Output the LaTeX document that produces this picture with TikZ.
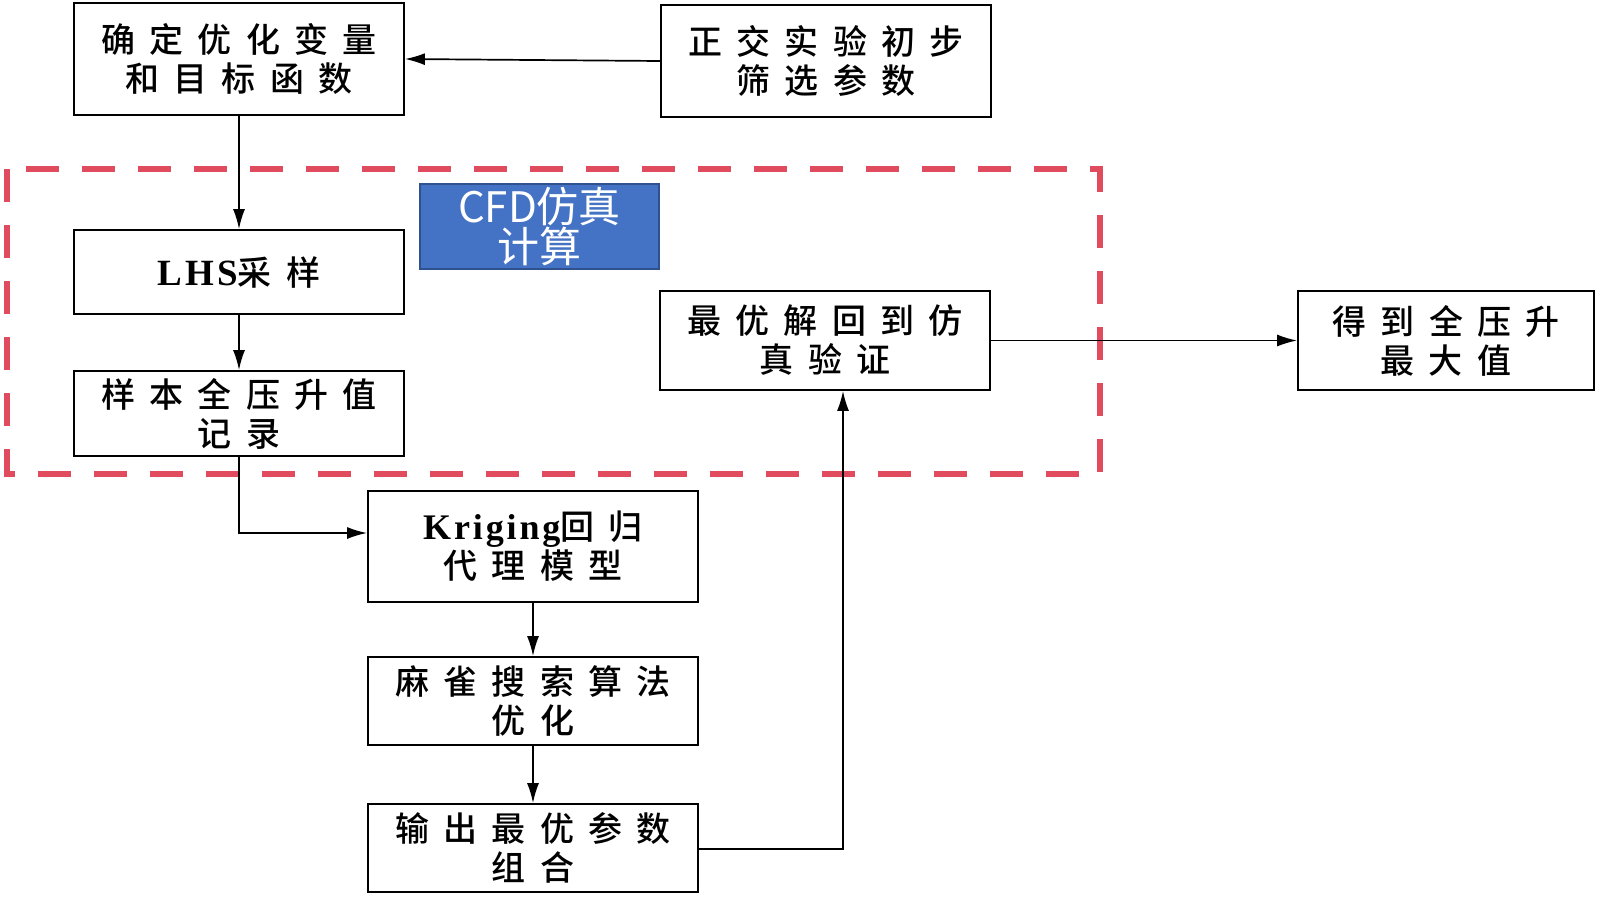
\documentclass[tikz,border=0pt]{standalone}
\usepackage{fontspec}
\newfontfamily\cjk[LetterSpace=42, UprightFont={* Medium}]{Noto Sans CJK SC}
\newfontfamily\cjkplain{Noto Sans CJK SC}
\newfontfamily\lat[LetterSpace=8]{Liberation Serif}
\usetikzlibrary{arrows.meta}
\definecolor{dashred}{RGB}{224,75,94}
\definecolor{cfdblue}{RGB}{68,114,196}
\definecolor{cfdedge}{RGB}{47,82,143}
\begin{document}
\begin{tikzpicture}[x=1pt,y=-1pt,
  box/.style={draw, line width=1.8pt, minimum width=330pt, align=center, inner sep=0pt,
    font=\fontsize{34}{39}\selectfont\cjk},
  arr/.style={line width=1.7pt, -{Latex[length=20pt,width=12pt]}},
  region/.style={draw=dashred, line width=6pt, dash pattern=on 33pt off 23pt}]
\useasboundingbox (0,0) rectangle (1600,900);

\draw[region] (7,169) rectangle (1100,474);

\node[box, minimum height=112pt] (def) at (239,59) {确定优化变量\\和目标函数};
\node[box, minimum height=112pt] (orth) at (826,61) {正交实验初步\\筛选参数};
\node[draw=cfdedge, fill=cfdblue, line width=1.2pt, minimum width=239pt, minimum height=85pt,
  inner sep=0pt, align=center, text=white, font=\fontsize{42}{38}\selectfont\cjkplain] (cfd) at (539.5,226.5) {CFD仿真\\计算};
\node[box, minimum height=84pt] (lhs) at (239,272) {{\lat\fontsize{37}{39}\selectfont\bfseries LHS}采样};
\node[box, minimum height=85pt] (rec) at (239,413.5) {样本全压升值\\记录};
\node[box, minimum height=111pt] (krig) at (533,546.5) {{\lat\fontsize{36}{39}\selectfont\bfseries Kriging}回归\\代理模型};
\node[box, minimum height=88pt] (mj) at (533,701) {麻雀搜索算法\\优化};
\node[box, minimum height=88pt] (out) at (533,848) {输出最优参数\\组合};
\node[box, minimum height=99pt] (ver) at (825,340.5) {最优解回到仿\\真验证};
\node[box, minimum width=296pt, minimum height=99pt] (fin) at (1446,340.5) {得到全压升\\最大值};

\draw[arr] (orth.west) -- (def.east);
\draw[arr] (def.south) -- (lhs.north);
\draw[arr] (lhs.south) -- (rec.north);
\coordinate (k1) at (239,533);
\draw[arr] (rec.south) -- (k1) -- (krig.west |- k1);
\draw[arr] (krig.south) -- (mj.north);
\draw[arr] (mj.south) -- (out.north);
\coordinate (o1) at (843,849);
\draw[arr] (out.east |- o1) -- (o1) -- (o1 |- ver.south);
\draw[arr] (ver.east) -- (fin.west);
\end{tikzpicture}
\end{document}
